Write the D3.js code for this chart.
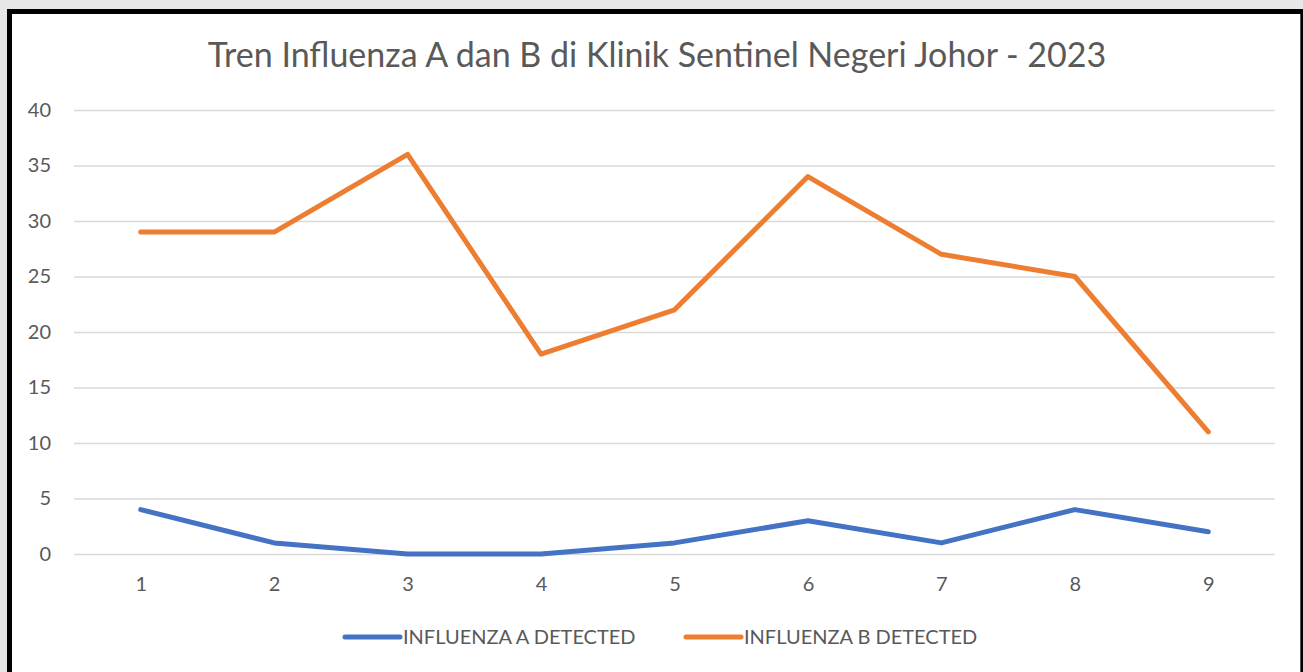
<!DOCTYPE html>
<html>
<head>
<meta charset="utf-8">
<script src="https://cdn.jsdelivr.net/npm/d3@7"></script>
<style>
  html, body { margin: 0; padding: 0; background: #e7e7e7; }
  svg { display: block; font-family: Lato, "Open Sans", sans-serif; }
</style>
</head>
<body>
<svg id="chart" width="1303" height="672"></svg>
<script>
const weeks = ["1", "2", "3", "4", "5", "6", "7", "8", "9"];
const influenzaA = [4, 1, 0, 0, 1, 3, 1, 4, 2];
const influenzaB = [29, 29, 36, 18, 22, 34, 27, 25, 11];
const yTicks = [0, 5, 10, 15, 20, 25, 30, 35, 40];
const seriesNames = ["INFLUENZA A DETECTED", "INFLUENZA B DETECTED"];
const seriesColors = ["#4472c4", "#ed7d31"];

const svg = d3.select("#chart");
const W = 1303, H = 672;

// card with heavy black frame on top/left
svg.append("rect").attr("x", 7).attr("y", 9).attr("width", W - 7).attr("height", H - 9).attr("fill", "#000");
svg.append("rect").attr("x", 12).attr("y", 14).attr("width", W - 13 - 2).attr("height", H - 14).attr("fill", "#fff");
svg.append("line").attr("x1", 1300.5).attr("x2", 1300.5).attr("y1", 14).attr("y2", H)
  .attr("stroke", "#555").attr("stroke-width", 1);

const margin = { left: 74, right: 1275, top: 110, bottom: 554 };

const x = d3.scalePoint().domain(weeks).range([margin.left, margin.right]).padding(0.5);
const y = d3.scaleLinear().domain([0, 40]).range([margin.bottom, margin.top]);

svg.append("text")
  .attr("x", 657).attr("y", 67)
  .attr("text-anchor", "middle")
  .attr("fill", "#595959")
  .attr("font-size", 34)
  .text("Tren Influenza A dan B di Klinik Sentinel Negeri Johor - 2023");

// gridlines
const yAxis = d3.axisLeft(y).tickValues(yTicks).tickSize(-(margin.right - margin.left)).tickPadding(23);
const gy = svg.append("g").attr("transform", `translate(${margin.left},0)`).call(yAxis);
gy.select(".domain").remove();
gy.selectAll(".tick line").attr("stroke", "#d9d9d9").attr("stroke-width", 1.3);
gy.selectAll(".tick text").attr("fill", "#595959").attr("font-size", 20).attr("font-family", "Lato, sans-serif");

const xAxis = d3.axisBottom(x).tickSize(0).tickPadding(23);
const gx = svg.append("g").attr("transform", `translate(0,${margin.bottom})`).call(xAxis);
gx.select(".domain").remove();
gx.selectAll(".tick text").attr("fill", "#595959").attr("font-size", 20).attr("font-family", "Lato, sans-serif");

const line = d3.line().x((d, i) => x(weeks[i])).y(d => y(d));

[influenzaA, influenzaB].forEach((vals, k) => {
  svg.append("path")
    .datum(vals)
    .attr("d", line)
    .attr("fill", "none")
    .attr("stroke", seriesColors[k])
    .attr("stroke-width", 5)
    .attr("stroke-linejoin", "round")
    .attr("stroke-linecap", "round");
});

// legend
const legendX = [345, 686];
seriesNames.forEach((name, k) => {
  const g = svg.append("g").attr("transform", `translate(${legendX[k]},637)`);
  g.append("line").attr("x1", 0).attr("x2", 55).attr("y1", 0).attr("y2", 0)
    .attr("stroke", seriesColors[k]).attr("stroke-width", 5).attr("stroke-linecap", "round");
  g.append("text").attr("x", 58).attr("y", 7)
    .attr("fill", "#595959").attr("font-size", 20)
    .text(name);
});
</script>
</body>
</html>
